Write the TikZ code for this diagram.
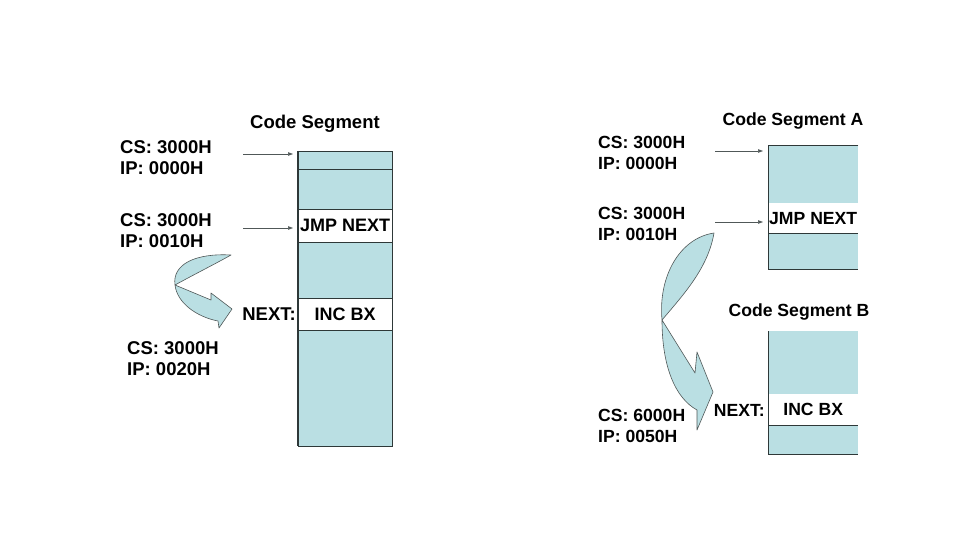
\documentclass[tikz,border=0pt]{standalone}
\usepackage{fontspec}
\setmainfont{Liberation Sans}
\usetikzlibrary{arrows.meta,positioning,calc}
\definecolor{segblue}{HTML}{BADFE3}
\definecolor{edge}{HTML}{2E3838}
\definecolor{pen}{HTML}{505858}

\begin{document}
\begin{tikzpicture}[x=1pt,y=-1pt,
    bf/.style 2 args={font=\bfseries\fontsize{#1}{#2}\selectfont},
    reg/.style={anchor=north west,inner sep=0pt,align=left},
    title/.style={anchor=base,inner sep=0pt},
    cell/.style={fill=#1,inner sep=0pt,anchor=north west},
    ptr/.style={draw=pen,line width=0.6pt,-{Triangle[length=5pt,width=3.5pt]},shorten >=5pt},
    jumparrow/.style={fill=segblue,draw=pen,line width=0.6pt,line join=round}]
  \useasboundingbox (0,0) rectangle (960,540);
  % left: one code segment, near jump
  \begin{scope}[every node/.append style={minimum width=94pt}]
    \node[cell=segblue,minimum height=18pt] (c1) at (298,151) {};
    \node[cell=segblue,minimum height=40pt] (c2) at (298,169) {};
    \node[cell=white,minimum height=33pt,bf={18}{21}] (jmpL) at (298,209) {JMP NEXT};
    \node[cell=segblue,minimum height=56pt] (c3) at (298,242) {};
    \node[cell=white,minimum height=32pt,bf={18}{21}] (incL) at (298,298) {INC BX};
    \node[cell=segblue,minimum height=116pt] (c4) at (298,330) {};
  \end{scope}
  \foreach \y in {169,209,242,298,330}{\draw[edge,line width=0.7pt] (298,\y) -- (392,\y);}
  \draw[edge,line width=0.8pt] (298,151) rectangle (392,446);
  \draw[edge,line width=2pt] (c1.north west) -- (c4.south west);
  \node[title,bf={18.5}{21}] (segL) at (315,128.6) {Code Segment};
  \node[reg,bf={18.5}{21}] (csL0) at (120,140.4) {CS: 3000H\\IP: 0000H};
  \node[reg,bf={18.5}{21}] (csL1) at (120,213.4) {CS: 3000H\\IP: 0010H};
  \node[reg,bf={18.5}{21}] (csL2) at (127,341.4) {CS: 3000H\\IP: 0020H};
  \node[title,anchor=base east,bf={18.5}{21}] (nextL) at (296,320.6) {NEXT:};
  \coordinate (fromL0) at (243,154);
  \coordinate (fromL1) at (243,228);
  \draw[ptr] (fromL0) -- (fromL0 -| c1.west);
  \draw[ptr] (fromL1) -- (fromL1 -| jmpL.west);
  \filldraw[jumparrow] (231,255) .. controls (196,253) and (172,264) .. (175,285)
    .. controls (177,303) and (197,317) .. (218,321) -- (219,328) -- (232,309)
    -- (211,293) -- (211,300) -- (175,285)
    .. controls (195,274) and (215,264) .. (231,255) -- cycle;
  % right: far jump from segment A to segment B
  \begin{scope}[every node/.append style={minimum width=90pt}]
    \node[cell=segblue,minimum height=58pt] (a1) at (768,145) {};
    \node[cell=white,minimum height=30pt,bf={17.6}{21}] (jmpR) at (768,203) {JMP NEXT};
    \node[cell=segblue,minimum height=36pt] (a2) at (768,233) {};
    \node[cell=segblue,minimum height=63pt] (b1) at (768,331) {};
    \node[cell=white,minimum height=31pt,bf={17.6}{21}] (incR) at (768,394) {INC BX};
    \node[cell=segblue,minimum height=29pt] (b2) at (768,425) {};
  \end{scope}
  \draw[edge,line width=0.8pt] (a1.north east) -- (a1.north west) -- (a2.south west) -- (a2.south east);
  \draw[edge,line width=0.8pt] (a2.north west) -- (a2.north east);
  \draw[edge,line width=0.8pt] (b1.north west) -- (b2.south west) -- (b2.south east);
  \draw[edge,line width=0.8pt] (b2.north west) -- (b2.north east);
  \node[title,bf={17.6}{21}] (segA) at (793,125.3) {Code Segment A};
  \node[title,bf={17.6}{21}] (segB) at (799,316.3) {Code Segment B};
  \node[reg,bf={17.6}{21.5}] (csR0) at (598,135.7) {CS: 3000H\\IP: 0000H};
  \node[reg,bf={17.6}{21.5}] (csR1) at (598,206.7) {CS: 3000H\\IP: 0010H};
  \node[reg,bf={17.6}{21.5}] (csR2) at (598,408.7) {CS: 6000H\\IP: 0050H};
  \node[title,anchor=base east,bf={17.6}{21}] (nextR) at (765,416.8) {NEXT:};
  \coordinate (fromR0) at (715,151);
  \coordinate (fromR1) at (715,222);
  \draw[ptr] (fromR0) -- (fromR0 -| a1.west);
  \draw[ptr] (fromR1) -- (fromR1 -| jmpR.west);
  \filldraw[jumparrow] (714,233) .. controls (680,238) and (658,276) .. (662,320)
    .. controls (662,366) and (675,398) .. (697,410) -- (697,430) -- (713,392)
    -- (697,352) -- (695,373) -- (662,320)
    .. controls (684,294) and (708,268) .. (714,233) -- cycle;
\end{tikzpicture}
\end{document}
